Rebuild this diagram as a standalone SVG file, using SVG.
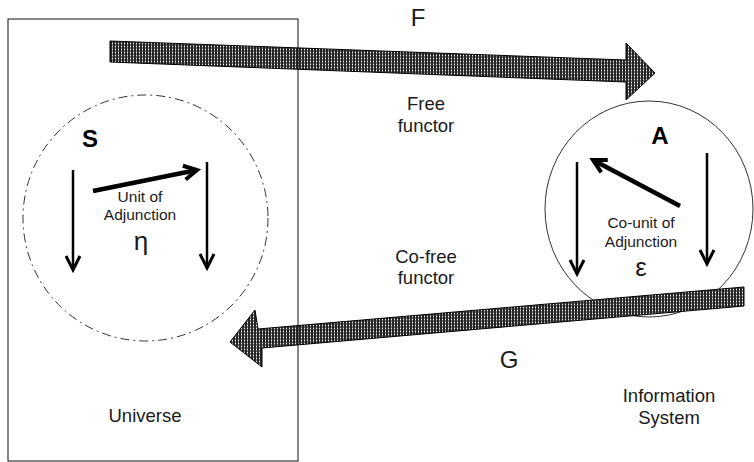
<svg xmlns="http://www.w3.org/2000/svg" width="754" height="462" viewBox="0 0 754 462">
  <defs>
    <pattern id="dither" width="3" height="3" patternUnits="userSpaceOnUse">
      <rect width="3" height="3" fill="#262626"/>
      <rect x="1" y="0" width="1" height="3" fill="#777777"/>
      <rect x="1" y="1" width="1" height="1" fill="#ffffff"/>
    </pattern>
    <marker id="head" markerUnits="userSpaceOnUse" viewBox="-18 -10 20 20" refX="0" refY="0" markerWidth="20" markerHeight="20" orient="auto" overflow="visible">
      <path d="M-14,-7 L0,0 L-14,7" fill="none" stroke="#000" stroke-width="3"/>
    </marker>
    <marker id="headbold" markerUnits="userSpaceOnUse" viewBox="-18 -10 20 20" refX="0" refY="0" markerWidth="20" markerHeight="20" orient="auto" overflow="visible">
      <path d="M-13,-7 L0,0 L-13,7" fill="none" stroke="#000" stroke-width="4"/>
    </marker>
  </defs>
  <style>
    text { font-family: "Liberation Sans", Arial, sans-serif; fill: #1a1a1a; text-anchor: middle; }
    .big { font-size: 18.5px; }
    .small { font-size: 15.5px; }
    .letter { font-size: 24px; }
    .obj { font-size: 24px; font-weight: bold; fill: #000; }
    .greek { font-size: 26px; }
    .band { fill: url(#dither); stroke: #000; stroke-width: 1; }
    .thin { stroke: #000; stroke-width: 2.5; fill: none; marker-end: url(#head); }
    .bold { stroke: #000; stroke-width: 4.5; fill: none; marker-end: url(#headbold); }
  </style>
  <rect width="754" height="462" fill="#fff"/>

  <g id="information-system">
    <ellipse cx="649" cy="209" rx="104" ry="108" fill="none" stroke="#333" stroke-width="1"/>
    <text class="obj" x="660" y="144">A</text>
    <text class="small" x="641" y="228">Co-unit of</text>
    <text class="small" x="641" y="247">Adjunction</text>
    <text class="greek" x="641" y="276">ε</text>
    <text class="big" x="669" y="402">Information</text>
    <text class="big" x="669" y="424">System</text>
  </g>

  <g id="universe">
    <ellipse cx="145.5" cy="218" rx="122.5" ry="123" fill="none" stroke="#333" stroke-width="1" stroke-dasharray="9 4 2 4"/>
    <text class="obj" x="90" y="147">S</text>
    <text class="small" x="140" y="202">Unit of</text>
    <text class="small" x="140" y="220">Adjunction</text>
    <text class="greek" x="141" y="250">η</text>
    <text class="big" x="145" y="422">Universe</text>
  </g>

  <g id="connectors">
    <polygon id="F-arrow" class="band" points="110,41 626,60 626,43 655,73 626,100 626,82 110,62"/>
    <polygon id="G-arrow" class="band" points="744,287 744,306 262,348 262,367 230,342 255,310 258,329"/>
    <line class="thin" x1="73" y1="170" x2="73" y2="270"/>
    <line class="thin" x1="207" y1="162" x2="207" y2="268"/>
    <line class="bold" x1="93" y1="191" x2="197" y2="170"/>
    <line class="thin" x1="577" y1="162" x2="577" y2="274"/>
    <line class="thin" x1="707" y1="153" x2="707" y2="264"/>
    <line class="bold" x1="680" y1="206" x2="593" y2="160"/>
  </g>

  <g id="universe-frame">
    <rect x="8" y="19" width="290" height="442" fill="none" stroke="#111" stroke-width="1"/>
  </g>

  <g id="labels">
    <text class="letter" x="418" y="26">F</text>
    <text class="big" x="426" y="110">Free</text>
    <text class="big" x="426" y="132">functor</text>
    <text class="big" x="426" y="263">Co-free</text>
    <text class="big" x="426" y="284">functor</text>
    <text class="letter" x="509" y="368">G</text>
  </g>
</svg>
